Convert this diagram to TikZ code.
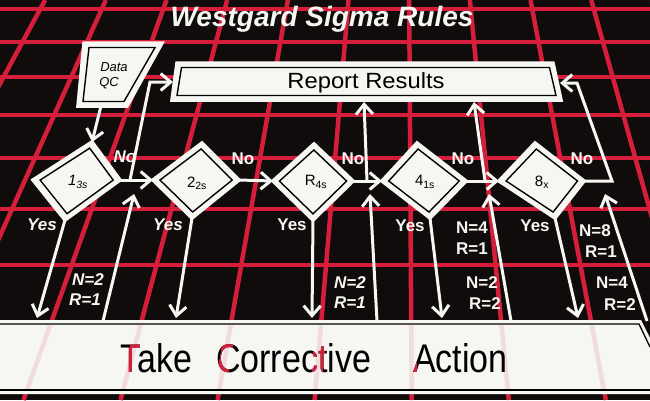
\documentclass[tikz,border=0pt]{standalone}
\usepackage{fontspec}
\setmainfont{Liberation Sans}
\usetikzlibrary{arrows.meta,calc}
\definecolor{bg}{RGB}{16,12,12}
\definecolor{gridred}{RGB}{214,30,58}
\definecolor{paper}{RGB}{246,246,243}
\tikzset{
  gridline/.style={draw=gridred, line width=4.5pt},
  arr/.style={draw=paper, line width=3pt, -{Straight Barb[length=10pt,width=17pt]}},
  shapeout/.style={fill=paper, draw=paper, line width=3.5pt, line join=miter},
  shapein/.style={draw=black, line width=1.4pt, line join=miter},
  lab/.style={text=paper, inner sep=0pt, font=\fontsize{17}{17}\selectfont\bfseries},
  ilab/.style={text=paper, inner sep=0pt, font=\fontsize{17}{17}\selectfont\bfseries\itshape},
  dlab/.style={text=black, inner sep=0pt, font=\fontsize{15}{15}\selectfont},
}
\newcommand{\tcafont}{\fontsize{40}{40}\selectfont}
\newcommand{\tcawords}[1]{%
  \node[anchor=base west, xscale=0.85, text=#1, font=\tcafont, inner sep=0pt] (tcaA) at (120,372) {Take};
  \node[anchor=base west, xscale=0.85, text=#1, font=\tcafont, inner sep=0pt] (tcaB) at (216,372) {Corrective};
  \node[anchor=base west, xscale=0.85, text=#1, font=\tcafont, inner sep=0pt] (tcaC) at (413,372) {Action};
}
\newcommand{\wgdiamond}[5]{%
  \coordinate (#1l) at #2;
  \coordinate (#1t) at #3;
  \coordinate (#1r) at #4;
  \coordinate (#1b) at #5;
  \coordinate (#1c) at ($0.25*(#1l)+0.25*(#1t)+0.25*(#1r)+0.25*(#1b)$);
  \filldraw[shapeout] (#1l) -- (#1t) -- (#1r) -- (#1b) -- cycle;
  \draw[shapein] ($(#1c)!0.84!(#1l)$) -- ($(#1c)!0.84!(#1t)$) -- ($(#1c)!0.84!(#1r)$) -- ($(#1c)!0.84!(#1b)$) -- cycle;
}
\begin{document}
\begin{tikzpicture}[x=1pt,y=-1pt]
\useasboundingbox (0,0) rectangle (650,400);
\fill[bg] (0,0) rectangle (650,400);
% red perspective grid
\foreach \yy in {9,42,77,115,158,209,265} \draw[gridline] (0,\yy) -- (650,\yy);
\foreach \k in {-7,...,4}{
  \pgfmathsetmacro{\xc}{410+72.5*\k-405}
  \pgfmathsetmacro{\xa}{405+\xc*0.83689}
  \pgfmathsetmacro{\xb}{405+\xc*1.33877}
  \draw[gridline] (\xa,0) -- (\xb,400);
}
% band: Take Corrective Action
\fill[paper] (0,320) -- (641,320) -- (650,338) -- (650,394) -- (0,394) -- cycle;
\begin{scope}
  \clip (0,325) rectangle (650,389);
  \foreach \k in {-7,...,4}{
    \pgfmathsetmacro{\xc}{410+72.5*\k-405}
    \pgfmathsetmacro{\xa}{405+\xc*0.83689}
    \pgfmathsetmacro{\xb}{405+\xc*1.33877}
    \draw[gridline, opacity=0.12] (\xa,0) -- (\xb,400);
  }
\end{scope}
\draw[black, line width=1.3pt] (0,324) -- (639,324) -- (650,347);
\draw[black, line width=1.3pt] (0,390) -- (650,390);
\tcawords{black}
\foreach \k in {-3,...,0}{
  \pgfmathsetmacro{\xc}{410+72.5*\k-405}
  \pgfmathsetmacro{\xa}{405+\xc*0.83689}
  \pgfmathsetmacro{\xb}{405+\xc*1.33877}
  \begin{scope}
    \clip (\xa-5.5,0) -- (\xa+5.5,0) -- (\xb+5.5,400) -- (\xb-5.5,400) -- cycle;
    \tcawords{gridred}
  \end{scope}
}
% title
\node[text=paper, inner sep=0pt, font=\fontsize{28}{28}\selectfont\bfseries\itshape] (title) at (322,19) {Westgard Sigma Rules};
% Data QC
\coordinate (qtl) at (84,43); \coordinate (qtr) at (162,43);
\coordinate (qbr) at (127,106); \coordinate (qbl) at (78,106);
\filldraw[shapeout] (qtl) -- (qtr) -- (qbr) -- (qbl) -- cycle;
\draw[shapein] (89,47.5) -- (155,47.5) -- (124,101.5) -- (83,101.5) -- cycle;
\node[text=black, inner sep=0pt, font=\fontsize{13}{13}\selectfont\itshape] (qc1) at (114,67) {Data};
\node[text=black, inner sep=0pt, font=\fontsize{13}{13}\selectfont\itshape] (qc2) at (109,83) {QC};
\coordinate (qout) at (101,106);
% Report Results
\coordinate (rtl) at (177,63); \coordinate (rtr) at (553,63);
\coordinate (rbr) at (561,100); \coordinate (rbl) at (172,100);
\filldraw[shapeout] (rtl) -- (rtr) -- (rbr) -- (rbl) -- cycle;
\draw[shapein] (181.5,67.5) -- (549.5,67.5) -- (556,95.5) -- (177,95.5) -- cycle;
\node[text=black, inner sep=0pt, xscale=1.08, font=\fontsize{22}{22}\selectfont] (report) at (366,83) {Report Results};
% diamonds
\wgdiamond{d1}{(33,180)}{(92,142)}{(120,180)}{(65,220)}
\wgdiamond{d2}{(153,180)}{(202,143)}{(239,180)}{(192,218)}
\wgdiamond{d3}{(273,181)}{(314,144)}{(353,181)}{(313,220)}
\wgdiamond{d4}{(382,181)}{(417,143)}{(466,181)}{(430,218)}
\wgdiamond{d5}{(499,181)}{(535,143)}{(584,181)}{(555,218)}
\node[dlab, font=\fontsize{15}{15}\selectfont\itshape] (d1txt) at (78,182) {1\textsubscript{3s}};
\node[dlab] (d2txt) at (197,183) {2\textsubscript{2s}};
\node[dlab] (d3txt) at (316,182) {R\textsubscript{4s}};
\node[dlab] (d4txt) at (425,182) {4\textsubscript{1s}};
\node[dlab] (d5txt) at (542,182) {8\textsubscript{x}};
% labels
\node[ilab] (no1) at (125,157) {No};
\node[lab] (no2) at (243,159) {No};
\node[lab] (no3) at (353,159) {No};
\node[lab] (no4) at (463,159) {No};
\node[lab] (no5) at (582,159) {No};
\node[ilab] (yes1) at (42,225) {Yes};
\node[ilab] (yes2) at (168,225) {Yes};
\node[lab] (yes3) at (292,225) {Yes};
\node[lab] (yes4) at (410,226) {Yes};
\node[lab] (yes5) at (535,226) {Yes};
\node[ilab] (n1) at (88,280) {N=2};
\node[ilab] (r1) at (85,300) {R=1};
\node[ilab] (n2) at (350,283) {N=2};
\node[ilab] (r2) at (350,303) {R=1};
\node[lab] (n3) at (472,228) {N=4};
\node[lab] (r3) at (472,249) {R=1};
\node[lab] (n4) at (482,283) {N=2};
\node[lab] (r4) at (485,304) {R=2};
\node[lab] (n5) at (595,231) {N=8};
\node[lab] (r5) at (601,252) {R=1};
\node[lab] (n6) at (612,283) {N=4};
\node[lab] (r6) at (620,305) {R=2};
% coordinates for connectors
\coordinate (j1) at (130,180);
\coordinate (c1) at (150,82);
\coordinate (rin1) at (173,82);
\coordinate (j3) at (367,181);
\coordinate (rin3) at (364,102);
\coordinate (j4) at (485,181);
\coordinate (rin4) at (474,102);
\coordinate (j5) at (612,181);
\coordinate (c5) at (577,83);
\coordinate (rin5) at (560,83);
\coordinate (u1a) at (103,321); \coordinate (u1b) at (134,194);
\coordinate (u3a) at (377,321); \coordinate (u3b) at (370,194);
\coordinate (u4a) at (511,321); \coordinate (u4b) at (489,194);
\coordinate (u5a) at (647,321); \coordinate (u5b) at (605,194);
\coordinate (y1) at (37,318);
\coordinate (y2) at (176,318);
\coordinate (y3) at (312,318);
\coordinate (y4) at (442,318);
\coordinate (y5) at (578,318);
% connectors
\draw[arr] (qout) -- (d1t);
\draw[arr] (d1r) -- (d2l);
\draw[arr] (d2r) -- (d3l);
\draw[arr] (d3r) -- (d4l);
\draw[arr] (d4r) -- (d5l);
\draw[arr, line join=miter] (j1) -- (c1) -- (rin1);
\draw[arr] (j3) -- (rin3);
\draw[arr] (j4) -- (rin4);
\draw[arr, line join=miter] (d5r) -- (j5) -- (c5) -- (rin5);
\draw[arr] (u1a) -- (u1b);
\draw[arr] (u3a) -- (u3b);
\draw[arr] (u4a) -- (u4b);
\draw[arr] (u5a) -- (u5b);
\draw[arr] (d1b) -- (y1);
\draw[arr] (d2b) -- (y2);
\draw[arr] (d3b) -- (y3);
\draw[arr] (d4b) -- (y4);
\draw[arr] (d5b) -- (y5);
\end{tikzpicture}
\end{document}
